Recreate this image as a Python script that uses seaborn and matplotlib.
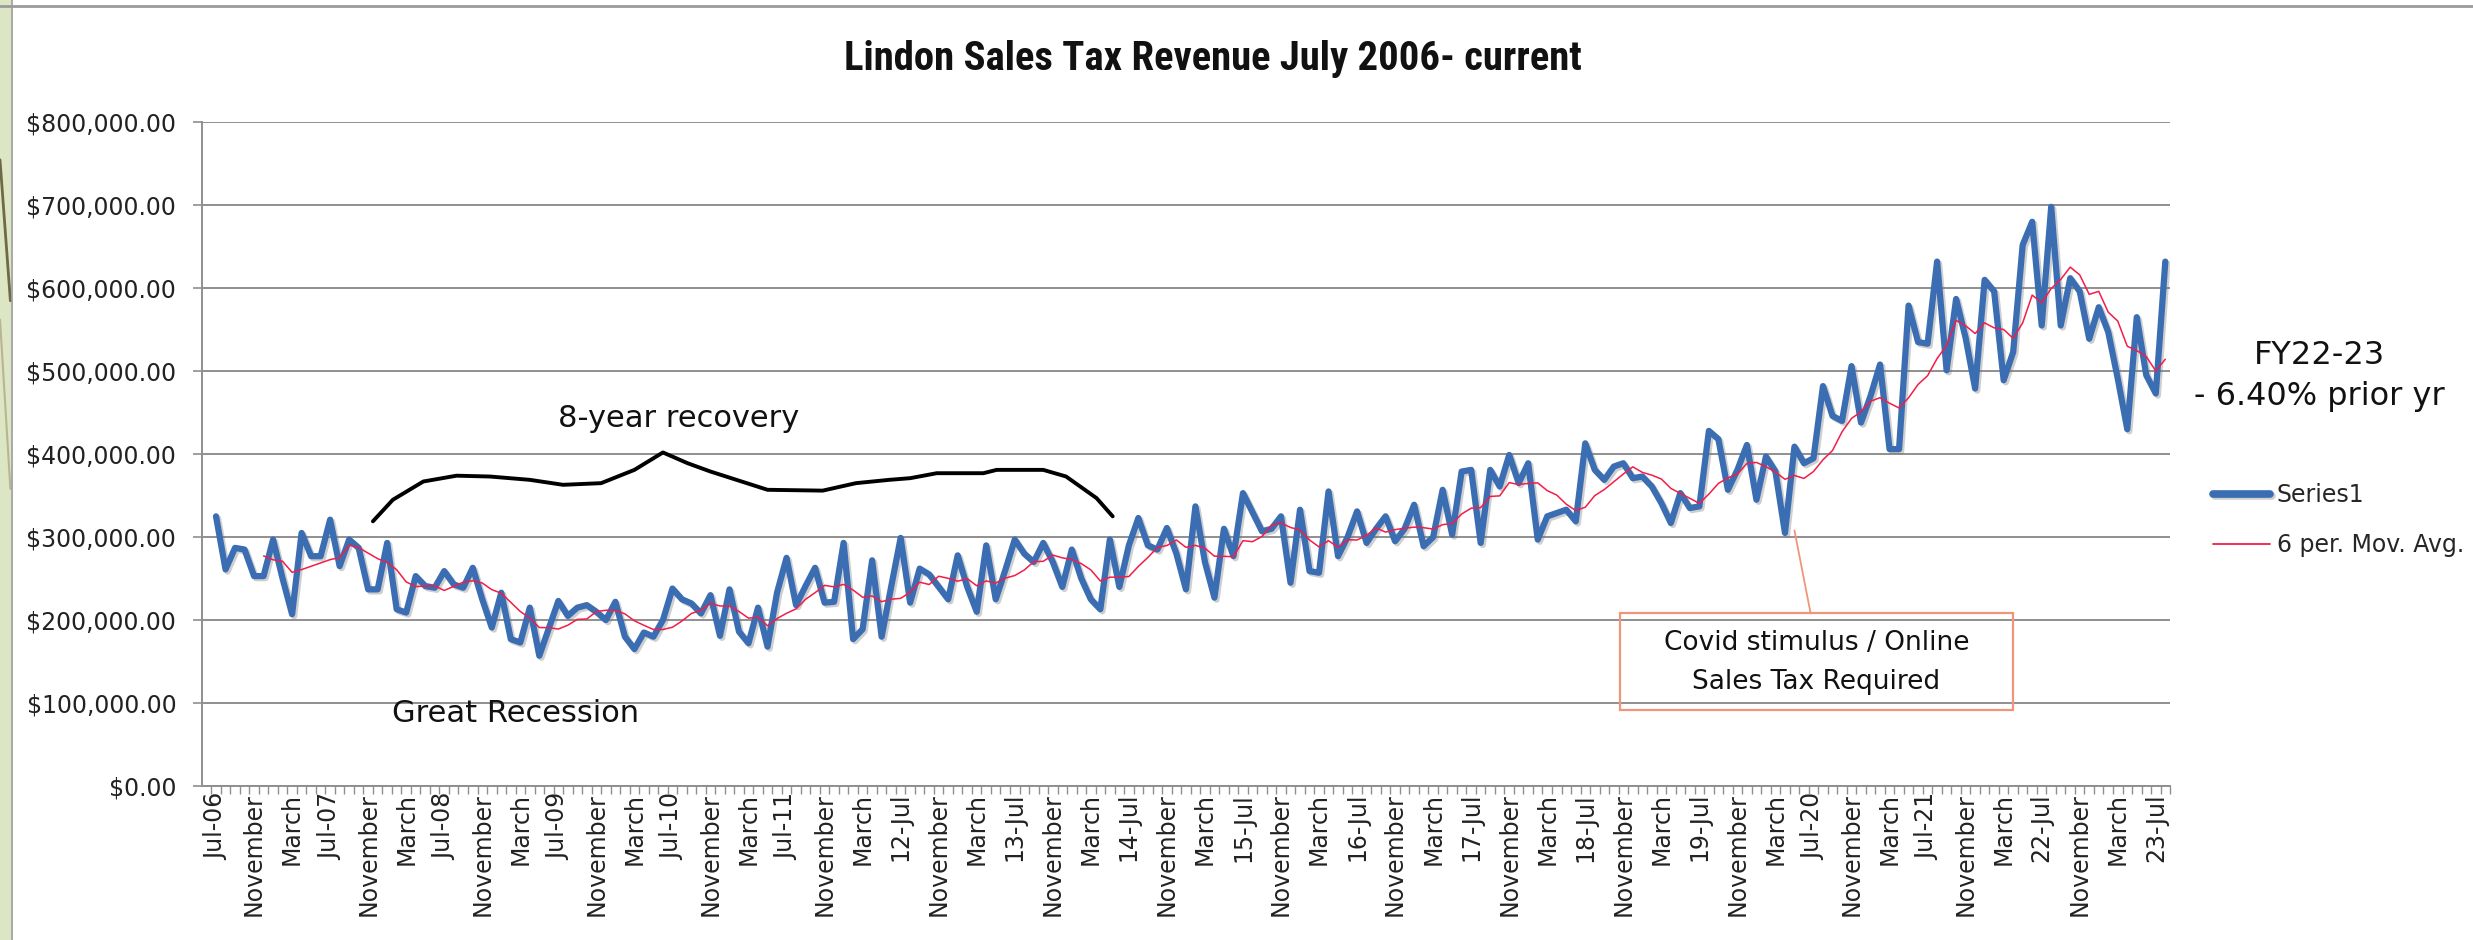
import numpy as np
import pandas as pd
import matplotlib
matplotlib.use("Agg")
import matplotlib.pyplot as plt
import matplotlib.patheffects as pe
from matplotlib import font_manager as fm
from matplotlib.lines import Line2D
from matplotlib.patches import Rectangle
import seaborn as sns

# ---------------- data (monthly sales tax revenue, thousands of $) ----------------
fy2007 = [325, 261, 287, 285, 253, 253, 297, 250, 207, 305, 277, 277]
fy2008 = [321, 265, 297, 287, 237, 237, 293, 213, 209, 253, 241, 239]
fy2009 = [259, 243, 239, 263, 225, 191, 233, 177, 173, 215, 157, 190]
fy2010 = [223, 205, 215, 218, 210, 200, 222, 180, 165, 185, 180, 200]
fy2011 = [238, 225, 220, 208, 230, 181, 237, 186, 172, 215, 168, 233]
fy2012 = [275, 218, 241, 263, 221, 222, 293, 177, 189, 272, 180, 240]
fy2013 = [299, 221, 262, 255, 240, 225, 278, 240, 210, 290, 225, 260]
fy2014 = [297, 280, 270, 293, 270, 240, 285, 250, 225, 213, 297, 240]
fy2015 = [290, 323, 290, 285, 311, 280, 237, 337, 270, 227, 310, 277]
fy2016 = [353, 330, 307, 310, 325, 245, 333, 259, 257, 355, 277, 300]
fy2017 = [331, 293, 310, 325, 295, 310, 339, 289, 300, 357, 303, 379]
fy2018 = [381, 293, 381, 361, 399, 365, 389, 297, 325, 329, 333, 319]
fy2019 = [413, 381, 369, 385, 389, 371, 373, 361, 341, 317, 353, 335]
fy2020 = [337, 428, 418, 357, 381, 411, 345, 397, 379, 305, 409, 389]
fy2021 = [395, 482, 446, 440, 506, 438, 470, 508, 406, 406, 579, 535]
fy2022 = [533, 632, 501, 587, 540, 479, 610, 596, 489, 523, 652, 680]
fy2023 = [555, 698, 555, 612, 596, 539, 577, 547, 491, 430, 565, 495]
fy2024 = [473, 632]

jul_labels = ["Jul-06", "Jul-07", "Jul-08", "Jul-09", "Jul-10", "Jul-11",
              "12-Jul", "13-Jul", "14-Jul", "15-Jul", "16-Jul", "17-Jul",
              "18-Jul", "19-Jul", "Jul-20", "Jul-21", "22-Jul", "23-Jul"]
mid_labels = ["November", "March"]
y_ticks = [0, 100000, 200000, 300000, 400000, 500000, 600000, 700000, 800000]

# hand-drawn brace annotation (month index, $k)
brace_x = [16.5, 18.6, 21.8, 25.3, 28.8, 33.0, 36.5, 40.5, 44.0, 47.0, 49.6, 52.0,
           58.0, 63.8, 67.3, 70.8, 73.0, 75.8, 80.7, 82.1, 87.0, 89.4, 92.6, 94.3]
brace_y = [319, 345, 367, 374, 373, 369, 363, 365, 381, 402, 389, 379,
           357, 356, 365, 369, 371, 377, 377, 381, 381, 373, 347, 325]

revenue = np.array(fy2007 + fy2008 + fy2009 + fy2010 + fy2011 + fy2012 + fy2013 +
                   fy2014 + fy2015 + fy2016 + fy2017 + fy2018 + fy2019 + fy2020 +
                   fy2021 + fy2022 + fy2023 + fy2024, dtype=float) * 1000
df = pd.DataFrame({"idx": np.arange(len(revenue)), "Series1": revenue})
df["ma"] = df["Series1"].rolling(6).mean()

tick_pos = list(range(0, len(revenue), 4))
tick_lab = []
for k in range(len(tick_pos)):
    if k % 3 == 0:
        tick_lab.append(jul_labels[k // 3])
    else:
        tick_lab.append(mid_labels[k % 3 - 1])

# ---------------- style ----------------
sns.set_theme(style="white")
plt.rcParams["font.family"] = ["DejaVu Sans"]

BLUE = "#3B6DB3"
RED = "#F21D48"
GRID = "#8F8F8F"
SALMON = "#F0957A"


def _is_bold(f):
    w = f.weight
    if isinstance(w, str):
        w = fm.weight_dict.get(w, 400)
    return int(w) >= 600


def pick_title_font():
    prefs = [("Liberation Sans Narrow", None), ("Roboto Condensed", None),
             ("Open Sans Condensed", None), ("DejaVu Sans", "condensed"),
             ("Liberation Sans", None)]
    for fam, stretch in prefs:
        for f in fm.fontManager.ttflist:
            if f.name == fam and _is_bold(f) and (stretch is None or f.stretch == stretch) \
                    and f.style == "normal":
                return fm.FontProperties(fname=f.fname)
    return fm.FontProperties(family="DejaVu Sans", weight="bold")


fig = plt.figure(figsize=(24.73, 9.40), dpi=100)
fig.patch.set_facecolor("white")

# slide decoration on the left + top border
fig.add_artist(Rectangle((0, 0), 0.0045, 1, transform=fig.transFigure,
                         facecolor="#DDE6C4", edgecolor="none"))
fig.add_artist(Line2D([0, 0.0042], [0.83, 0.68], transform=fig.transFigure,
                      color="#6F6A45", lw=2.0))
fig.add_artist(Line2D([0, 0.0042], [0.66, 0.48], transform=fig.transFigure,
                      color="#B9B58F", lw=1.5))
fig.add_artist(Line2D([0.0048, 0.0048], [0, 1], transform=fig.transFigure,
                      color="#9A9A9A", lw=1.2))
fig.add_artist(Line2D([0, 1], [0.994, 0.994], transform=fig.transFigure,
                      color="#9A9A9A", lw=2))

ax = fig.add_axes([0.0817, 0.1638, 0.7958, 0.7062])
ax.set_facecolor("white")

shadow = [pe.SimpleLineShadow(offset=(1.5, -1.5), shadow_color="#777777", alpha=0.35), pe.Normal()]
sns.lineplot(data=df, x="idx", y="Series1", ax=ax, color=BLUE, lw=4.5,
             legend=False, path_effects=shadow)
sns.lineplot(data=df, x="idx", y="ma", ax=ax, color=RED, lw=1.1, legend=False)

ax.set_xlim(-1.47, len(revenue) - 0.5)
ax.set_ylim(0, 800000)
ax.set_yticks(y_ticks)
ax.set_yticklabels(["${:,.2f}".format(v) for v in y_ticks], fontsize=17, color="#222222")
ax.yaxis.grid(True, color=GRID, lw=1.4)
ax.xaxis.grid(False)
ax.set_xticks(tick_pos)
ax.set_xticklabels(tick_lab, rotation=90, fontsize=17, color="#222222")
ax.set_xticks(np.arange(-0.5, len(revenue), 1), minor=True)
ax.tick_params(axis="x", which="major", length=0, pad=5)
ax.tick_params(axis="x", which="minor", length=6, width=1, color=GRID, direction="out", bottom=True)
ax.tick_params(axis="y", length=6.5, width=1.2, color=GRID, direction="out", left=True, pad=12)
ax.set_xlabel("")
ax.set_ylabel("")
for s in ["top", "right"]:
    ax.spines[s].set_visible(False)
for s in ["left", "bottom"]:
    ax.spines[s].set_color(GRID)
    ax.spines[s].set_linewidth(1.4)

# title: fitted to the width it spans in the reference
tfp = pick_title_font()
tfp.set_size(30)
title = fig.text(844 / 2473, 0.937, "Lindon Sales Tax Revenue July 2006- current",
                 ha="left", va="center", fontproperties=tfp, color="#111111")
renderer = fig.canvas.get_renderer()
w = title.get_window_extent(renderer).width
title.set_fontsize(30 * 740 / w)

# annotations
ax.plot(brace_x, np.array(brace_y) * 1000, color="black", lw=2.8,
        solid_capstyle="round", solid_joinstyle="round")
ax.text(48.6, 443000, "8-year recovery", ha="center", va="center", fontsize=22, color="#111111")
ax.text(18.5, 88000, "Great Recession", ha="left", va="center", fontsize=22, color="#111111")

ax.add_patch(Rectangle((147.6, 92000), 41.4, 116000, facecolor="none", edgecolor=SALMON, lw=1.6, zorder=4))
ax.plot([167.7, 166.0], [208000, 308000], color=SALMON, lw=1.3, zorder=4)
ax.text(168.3, 172000, "Covid stimulus / Online", ha="center", va="center", fontsize=19, color="#111111", zorder=5)
ax.text(168.3, 125000, "Sales Tax Required", ha="center", va="center", fontsize=19, color="#111111", zorder=5)

fig.text(0.938, 0.622, "FY22-23", ha="center", va="center", fontsize=23, color="#111111")
fig.text(0.938, 0.578, "- 6.40% prior yr", ha="center", va="center", fontsize=23, color="#111111")

handles = [Line2D([], [], color=BLUE, lw=5.5, path_effects=shadow),
           Line2D([], [], color=RED, lw=1.3)]
fig.legend(handles, ["Series1", "6 per. Mov. Avg."], loc="center left",
           bbox_to_anchor=(0.8949, 0.4468), bbox_transform=fig.transFigure,
           frameon=False, fontsize=17, handlelength=2.4, handletextpad=0.3,
           labelspacing=1.1, borderaxespad=0, borderpad=0)

fig.savefig("out.png", dpi=100, facecolor="white")
